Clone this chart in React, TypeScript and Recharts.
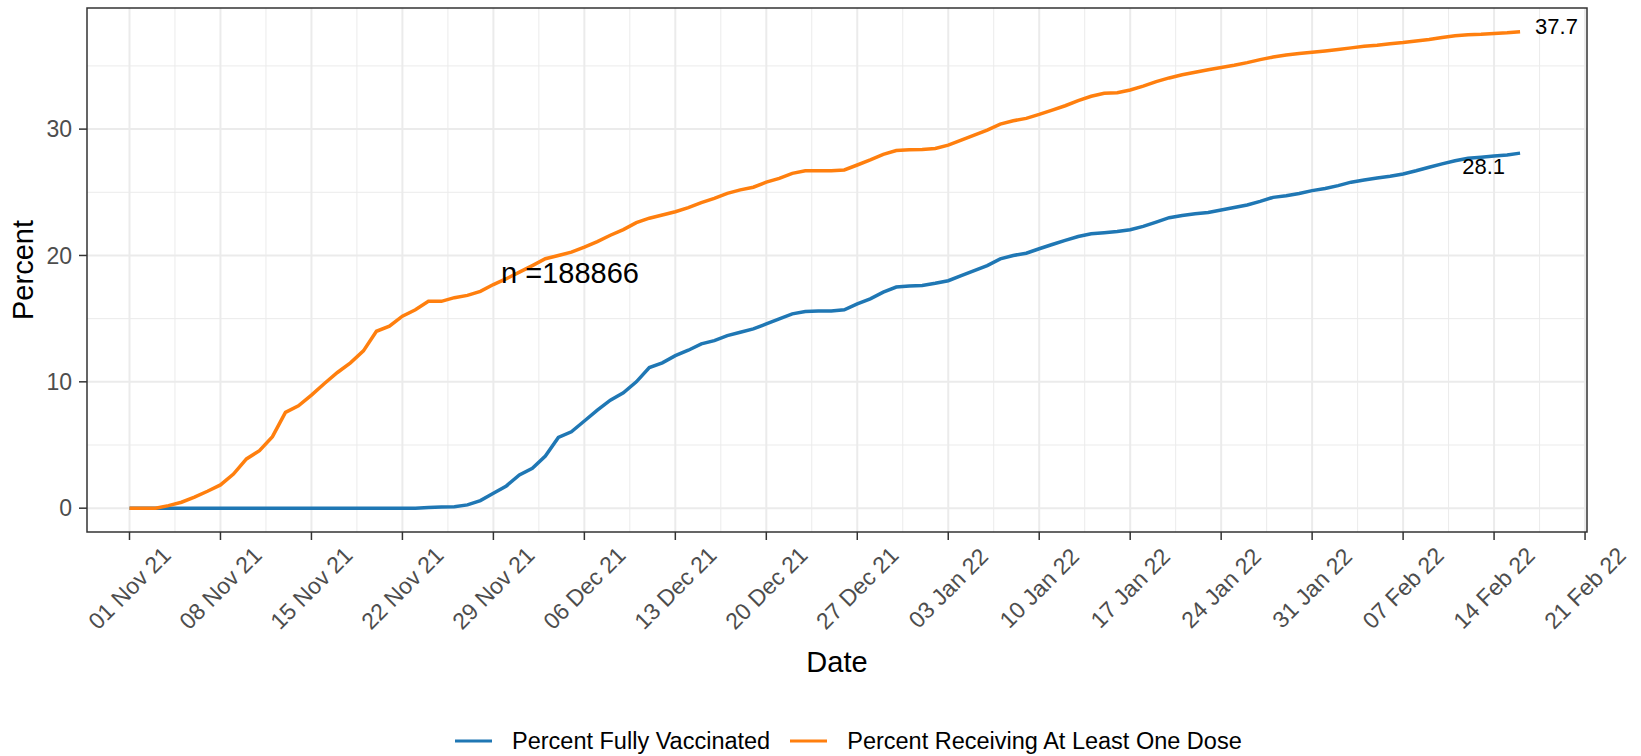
import { CartesianGrid, LabelList, Line, LineChart, ReferenceArea, ReferenceDot, XAxis, YAxis } from "recharts";

// Daily cumulative coverage, 01 Nov 21 (day 0) to 16 Feb 22 (day 107).
const FULLY_VACCINATED = [
  0, 0, 0, 0, 0, 0, 0, 0, 0, 0, 0, 0, 0, 0, 0, 0, 0, 0, 0, 0, 0, 0, 0, 0.05, 0.1, 0.12, 0.26, 0.6,
  1.18, 1.76, 2.63, 3.16, 4.13, 5.6, 6.05, 6.9, 7.76, 8.55, 9.13, 10.0, 11.13, 11.5, 12.07, 12.5,
  13.0, 13.26, 13.66, 13.92, 14.19, 14.58, 14.98, 15.38, 15.57, 15.6, 15.6, 15.7, 16.17, 16.57,
  17.1, 17.5, 17.58, 17.63, 17.8, 18.0, 18.4, 18.8, 19.2, 19.73, 20.0, 20.18, 20.53, 20.87, 21.19,
  21.5, 21.72, 21.8, 21.9, 22.04, 22.3, 22.64, 22.99, 23.17, 23.3, 23.4, 23.6, 23.8, 24.0, 24.28,
  24.6, 24.73, 24.9, 25.13, 25.3, 25.53, 25.8, 25.97, 26.13, 26.27, 26.45, 26.7, 26.98, 27.25,
  27.5, 27.7, 27.78, 27.88, 27.96, 28.1
];

const AT_LEAST_ONE_DOSE = [
  0, 0, 0, 0.2, 0.47, 0.87, 1.34, 1.84, 2.7, 3.9, 4.55, 5.66, 7.58, 8.1, 8.95, 9.87, 10.74, 11.5,
  12.45, 14.0, 14.4, 15.2, 15.7, 16.37, 16.37, 16.66, 16.84, 17.16, 17.7, 18.16, 18.68, 19.2,
  19.74, 20.0, 20.26, 20.66, 21.1, 21.6, 22.05, 22.6, 22.95, 23.2, 23.46, 23.78, 24.18, 24.52,
  24.92, 25.19, 25.4, 25.8, 26.1, 26.5, 26.7, 26.7, 26.7, 26.77, 27.16, 27.56, 28.0, 28.3, 28.36,
  28.38, 28.47, 28.73, 29.13, 29.52, 29.92, 30.4, 30.66, 30.85, 31.16, 31.5, 31.85, 32.25, 32.6,
  32.83, 32.88, 33.1, 33.4, 33.76, 34.05, 34.3, 34.5, 34.7, 34.87, 35.05, 35.26, 35.5, 35.7,
  35.87, 35.98, 36.08, 36.19, 36.3, 36.43, 36.56, 36.64, 36.75, 36.85, 36.98, 37.1, 37.25, 37.38,
  37.46, 37.5, 37.57, 37.62, 37.7
];

const X_TICKS = [0, 7, 14, 21, 28, 35, 42, 49, 56, 63, 70, 77, 84, 91, 98, 105, 112];
const X_TICK_LABELS = [
  "01 Nov 21", "08 Nov 21", "15 Nov 21", "22 Nov 21", "29 Nov 21", "06 Dec 21", "13 Dec 21",
  "20 Dec 21", "27 Dec 21", "03 Jan 22", "10 Jan 22", "17 Jan 22", "24 Jan 22", "31 Jan 22",
  "07 Feb 22", "14 Feb 22", "21 Feb 22"
];
const X_MINOR = [3.5, 10.5, 17.5, 24.5, 31.5, 38.5, 45.5, 52.5, 59.5, 66.5, 73.5, 80.5, 87.5, 94.5, 101.5, 108.5];
const Y_TICKS = [0, 10, 20, 30];
const Y_MINOR = [5, 15, 25, 35];

const SERIES = [
  { key: "full", name: "Percent Fully Vaccinated", color: "#1F77B4" },
  { key: "dose", name: "Percent Receiving At Least One Dose", color: "#FF7F0E" }
];

const SAMPLE_NOTE = "n =188866";
const NOTE_DAY = 33.9;
const NOTE_PCT = 18.6;

const X_DOMAIN: [number, number] = [-3.27, 112.15];
const Y_DOMAIN: [number, number] = [-1.885, 39.585];

const FONT = "'Liberation Sans', Arial, sans-serif";
const LAST = FULLY_VACCINATED.length - 1;

const rows = FULLY_VACCINATED.map((v, i) => ({ day: i, full: v, dose: AT_LEAST_ONE_DOSE[i] }));

function DateTick({ x, y, payload }: any) {
  const label = X_TICK_LABELS[X_TICKS.indexOf(payload.value)];
  const cy = y + 46;
  return (
    <text
      x={x}
      y={cy}
      transform={`rotate(-45, ${x}, ${cy})`}
      textAnchor="middle"
      dominantBaseline="central"
      fontSize={23}
      fill="#4D4D4D"
    >
      {label}
    </text>
  );
}

// value at the last day, right of the orange line, below-left of the blue one
function endLabel(side: "left" | "right") {
  return (props: any) => {
    const { x, y, index, value } = props;
    if (index !== LAST) return null;
    const right = side === "right";
    return (
      <text
        x={right ? x + 15 : x - 15}
        y={right ? y - 5 : y + 13}
        textAnchor={right ? "start" : "end"}
        dominantBaseline="central"
        fontSize={22}
        fill="#000"
      >
        {Number(value).toFixed(1)}
      </text>
    );
  };
}

export default function App() {
  return (
    <div style={{ position: "absolute", left: 0, top: 0, width: 1641, height: 756, background: "#fff", fontFamily: FONT }}>
      <LineChart width={1641} height={756} data={rows} margin={{ top: 8, right: 54, left: 0, bottom: 0 }}>
        <CartesianGrid stroke="#EBEBEB" strokeWidth={1} horizontalValues={Y_MINOR} verticalValues={X_MINOR} />
        <CartesianGrid stroke="#EBEBEB" strokeWidth={2} horizontalValues={Y_TICKS} verticalValues={X_TICKS} />
        <XAxis
          dataKey="day"
          type="number"
          domain={X_DOMAIN}
          allowDataOverflow
          ticks={X_TICKS}
          interval={0}
          height={224}
          axisLine={false}
          tickSize={8}
          tickLine={{ stroke: "#333", strokeWidth: 1.5 }}
          tick={<DateTick />}
          label={(p: any) => {
            const vb = p.viewBox;
            return (
              <text x={vb.x + vb.width / 2} y={vb.y + 130} textAnchor="middle" dominantBaseline="central" fontSize={29} fill="#000">
                Date
              </text>
            );
          }}
        />
        <YAxis
          type="number"
          domain={Y_DOMAIN}
          allowDataOverflow
          ticks={Y_TICKS}
          width={87}
          axisLine={false}
          tickSize={8}
          tickMargin={7}
          tickLine={{ stroke: "#333", strokeWidth: 1.5 }}
          tick={{ fill: "#4D4D4D", fontSize: 23 }}
          label={(p: any) => {
            const vb = p.viewBox;
            const cx = vb.x + 23;
            const cy = vb.y + vb.height / 2;
            return (
              <text x={cx} y={cy} transform={`rotate(-90, ${cx}, ${cy})`} textAnchor="middle" dominantBaseline="central" fontSize={29} fill="#000">
                Percent
              </text>
            );
          }}
        />
        <ReferenceArea
          x1={X_DOMAIN[0]}
          x2={X_DOMAIN[1]}
          y1={Y_DOMAIN[0]}
          y2={Y_DOMAIN[1]}
          fill="none"
          fillOpacity={0}
          stroke="#333"
          strokeWidth={1.5}
          ifOverflow="visible"
        />
        <Line dataKey="full" name={SERIES[0].name} stroke={SERIES[0].color} strokeWidth={3.5} dot={false} isAnimationActive={false}>
          <LabelList dataKey="full" content={endLabel("left")} />
        </Line>
        <Line dataKey="dose" name={SERIES[1].name} stroke={SERIES[1].color} strokeWidth={3.5} dot={false} isAnimationActive={false}>
          <LabelList dataKey="dose" content={endLabel("right")} />
        </Line>
        <ReferenceDot
          x={NOTE_DAY}
          y={NOTE_PCT}
          r={1}
          fill="none"
          stroke="none"
          label={{ value: SAMPLE_NOTE, position: "center", fontSize: 29, fill: "#000" }}
        />
      </LineChart>
      <div
        style={{
          position: "absolute",
          left: 455,
          top: 741,
          transform: "translateY(-50%)",
          display: "flex",
          alignItems: "center",
          fontSize: 23.5,
          color: "#000",
          whiteSpace: "nowrap"
        }}
      >
        {SERIES.map((s) => (
          <div key={s.key} style={{ display: "flex", alignItems: "center", marginRight: 20 }}>
            <span style={{ display: "inline-block", width: 37, height: 3.5, background: s.color, marginRight: 20 }} />
            <span>{s.name}</span>
          </div>
        ))}
      </div>
    </div>
  );
}
